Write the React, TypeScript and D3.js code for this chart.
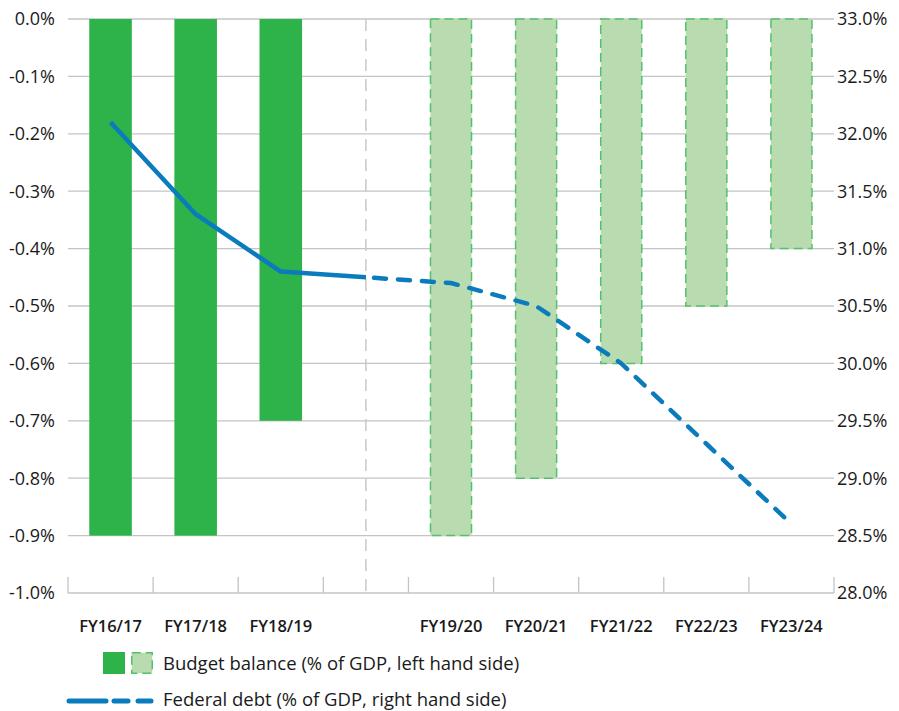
import * as d3 from "d3";
import React from "react";

// categories, incl. an empty slot separating actuals from forecasts
const categories = ["FY16/17", "FY17/18", "FY18/19", "", "FY19/20", "FY20/21", "FY21/22", "FY22/23", "FY23/24"];
const actualYears = ["FY16/17", "FY17/18", "FY18/19"];
const budgetBalance = [-0.9, -0.9, -0.7, null, -0.9, -0.8, -0.6, -0.5, -0.4];
const federalDebt = [32.1, 31.3, 30.8, null, 30.7, 30.5, 30.0, 29.3, 28.6];
const leftTicks = [0, -0.1, -0.2, -0.3, -0.4, -0.5, -0.6, -0.7, -0.8, -0.9, -1.0];
const rightTicks = [33.0, 32.5, 32.0, 31.5, 31.0, 30.5, 30.0, 29.5, 29.0, 28.5, 28.0];
const legendLabels = ["Budget balance (% of GDP, left hand side)", "Federal debt (% of GDP, right hand side)"];

const W = 899;
const H = 711;
const left = 68;
const right = 834;
const top = 19;
const bottom = 593;

const DARK = "#2db34a";
const LIGHT = "#b8dcb0";
const LIGHT_EDGE = "#55c06b";
const BLUE = "#0a7bbd";
const GRID = "#c4c4c4";
const FONT = "'Open Sans', 'Noto Sans', sans-serif";
const TXT = "#1a1a1a";

export default function App() {
  const x = d3
    .scaleBand<number>()
    .domain(d3.range(categories.length))
    .range([left, right])
    .paddingInner(0.5)
    .paddingOuter(0.25);
  const step = x.step();
  const yL = d3.scaleLinear().domain([-1, 0]).range([bottom, top]);
  const yR = d3.scaleLinear().domain([28, 33]).range([bottom, top]);
  const cx = (i: number) => (x(i) as number) + x.bandwidth() / 2;
  const gapX = cx(3);

  const debtPts = federalDebt
    .map((v, i) => (v == null ? null : ([cx(i), yR(v)] as [number, number])))
    .filter((p): p is [number, number] => p != null);
  const linePath = d3.line()(debtPts) || "";

  const boundaries = d3.range(categories.length + 1).map((i) => left + i * step);

  return (
    <svg width={W} height={H} style={{ position: "absolute", left: 0, top: 0 }} fontFamily={FONT}>
      <defs>
        <clipPath id="solidClip">
          <rect x={0} y={0} width={gapX} height={H} />
        </clipPath>
        <clipPath id="dashClip">
          <rect x={gapX} y={0} width={W - gapX} height={H} />
        </clipPath>
      </defs>

      {/* gridlines */}
      {leftTicks.map((t) => (
        <line key={"g" + t} x1={left} x2={right} y1={yL(t)} y2={yL(t)} stroke={GRID} strokeWidth={1.3} />
      ))}

      {/* axis ticks along bottom */}
      {boundaries.map((bx, i) => (
        <line key={"t" + i} x1={bx} x2={bx} y1={bottom - 16} y2={bottom} stroke={GRID} strokeWidth={1.3} />
      ))}

      {/* divider between actuals and forecasts */}
      <line x1={gapX} x2={gapX} y1={top} y2={bottom} stroke="#c8c8c8" strokeWidth={1.5} strokeDasharray="12,8" />

      {/* bars */}
      {budgetBalance.map((v, i) => {
        if (v == null) return null;
        const actual = actualYears.includes(categories[i]);
        const y0 = yL(0);
        const y1 = yL(v);
        return actual ? (
          <rect key={"b" + i} x={x(i)} y={y0} width={x.bandwidth()} height={y1 - y0} fill={DARK} />
        ) : (
          <rect
            key={"b" + i}
            x={(x(i) as number) + 0.75}
            y={y0}
            width={x.bandwidth() - 1.5}
            height={y1 - y0}
            fill={LIGHT}
            stroke={LIGHT_EDGE}
            strokeWidth={1.5}
            strokeDasharray="9,5"
          />
        );
      })}

      {/* federal debt line */}
      <path d={linePath} fill="none" stroke={BLUE} strokeWidth={4.5} strokeLinejoin="round" clipPath="url(#solidClip)" />
      <path
        d={linePath}
        fill="none"
        stroke={BLUE}
        strokeWidth={4.5}
        strokeLinecap="round"
        strokeDasharray="12,12"
        strokeDashoffset={-(gapX - cx(0)) + 6}
        clipPath="url(#dashClip)"
      />

      {/* left axis labels */}
      {leftTicks.map((t) => (
        <text key={"l" + t} x={55} y={yL(t)} dy="0.35em" textAnchor="end" fontSize={18} fill={TXT}>
          {(t === 0 ? 0 : t).toFixed(1) + "%"}
        </text>
      ))}

      {/* right axis labels */}
      {rightTicks.map((t) => (
        <text key={"r" + t} x={837} y={yR(t)} dy="0.35em" textAnchor="start" fontSize={18} fill={TXT}>
          {t.toFixed(1) + "%"}
        </text>
      ))}

      {/* category labels */}
      {categories.map((c, i) =>
        c ? (
          <text key={"c" + i} x={cx(i)} y={626} dy="0.35em" textAnchor="middle" fontSize={16.5} fontWeight={600} fill={TXT}>
            {c}
          </text>
        ) : null
      )}

      {/* legend */}
      <rect x={103} y={652} width={22} height={22} fill={DARK} />
      <rect x={131.75} y={652.75} width={20.5} height={20.5} fill={LIGHT} stroke={LIGHT_EDGE} strokeWidth={1.5} strokeDasharray="9,5" />
      <text x={163} y={664} dy="0.35em" fontSize={18.5} fill={TXT}>
        {legendLabels[0]}
      </text>
      <line x1={69} x2={106} y1={701} y2={701} stroke={BLUE} strokeWidth={5} strokeLinecap="round" />
      <line x1={114} x2={128} y1={701} y2={701} stroke={BLUE} strokeWidth={5} strokeLinecap="round" />
      <line x1={138} x2={151} y1={701} y2={701} stroke={BLUE} strokeWidth={5} strokeLinecap="round" />
      <text x={163} y={700} dy="0.35em" fontSize={18.5} fill={TXT}>
        {legendLabels[1]}
      </text>
    </svg>
  );
}
